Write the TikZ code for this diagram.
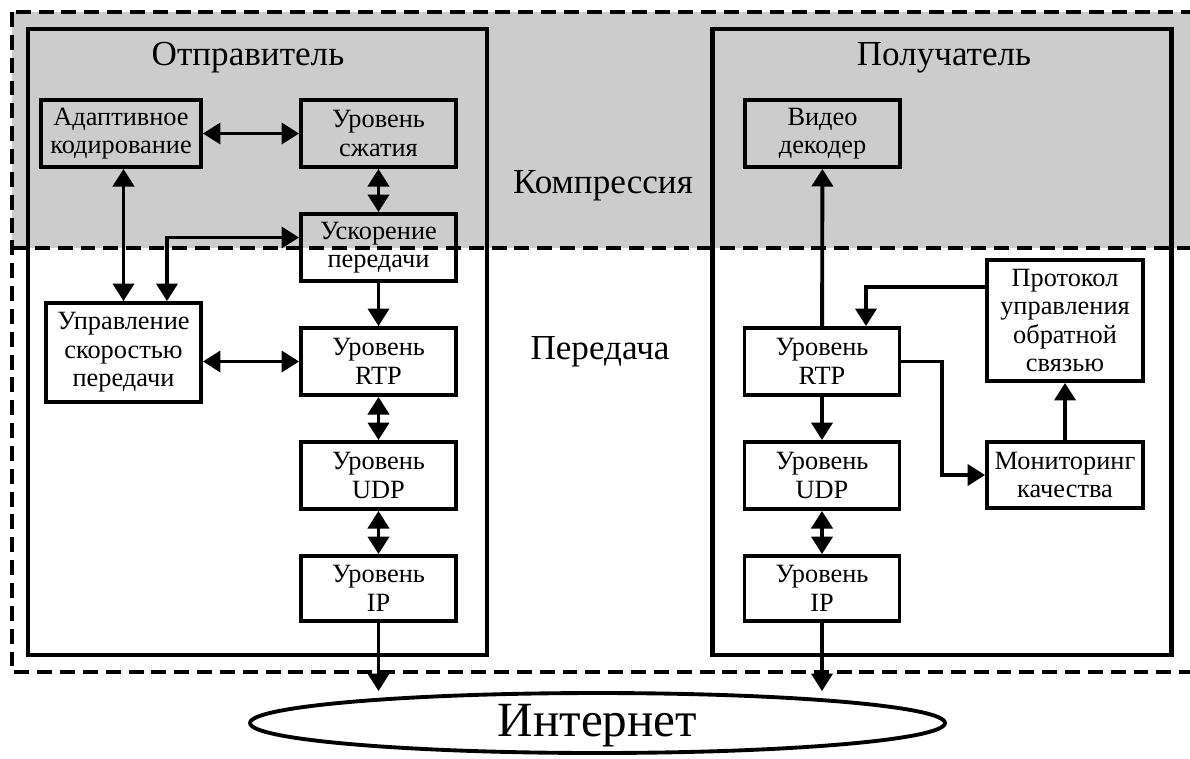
\documentclass[tikz,border=0pt]{standalone}
\usepackage{fontspec}
\setmainfont{Liberation Serif}
\usepackage{tikz}
\usetikzlibrary{
  arrows.meta,
  positioning,
  shapes.geometric
}
\usepackage{xcolor}
\definecolor{lightGray}{gray}{0.8}
\tikzset{
  blockbox/.style={
    draw,
    line width=2.2pt,
    align=center,
    inner sep=2pt,
    minimum width=3.1cm,
    minimum height=1.34cm,
    font=\fontsize{15}{16.2}\selectfont
  },
  hostbox/.style={
    draw,
    line width=2.4pt,
    minimum height=12.52cm
  },
  heading/.style={
    font=\fontsize{20}{22}\selectfont
  },
  zone/.style={
    line width=2.8pt,
    dash pattern=on 8.5pt off 4.5pt
  },
  link/.style={
    line width=2.2pt
  }
}

\begin{document}
\begin{tikzpicture}[>={Triangle[length=10pt,width=12pt]}, x=0.02cm, y=-0.02cm]
    \clip (0,0) rectangle (1190,758);
    \fill[lightGray] (12,12) rectangle (1200,248);

    \node[hostbox, minimum width=9.18cm] (sender) at (257.5,342) {};
    \node[hostbox, minimum width=9.18cm] (receiver) at (942,342) {};
    \node[heading] (senderTitle) at (248,58) {Отправитель};
    \node[heading] (receiverTitle) at (944,58) {Получатель};
    \node[heading] (compression) at (603,186) {Компрессия};
    \node[heading] (transfer) at (600,352) {Передача};

    % sender
    \node[blockbox, minimum width=3.2cm] (adapt) at (121,133.5) {Адаптивное\\кодирование};
    \node[blockbox] (compr) at (378.5,133.5) {Уровень\\сжатия};
    \node[blockbox] (accel) at (378.5,247.5) {Ускорение\\передачи};
    \node[blockbox, minimum height=1.98cm] (rate) at (123.5,352.5) {Управление\\скоростью\\передачи};
    \node[blockbox] (rtpS) at (378.5,361.5) {Уровень\\RTP};
    \node[blockbox] (udpS) at (378.5,475.5) {Уровень\\UDP};
    \node[blockbox, minimum height=1.3cm] (ipS) at (378.5,588.5) {Уровень\\IP};

    % receiver
    \node[blockbox] (dec) at (822.5,133.5) {Видео\\декодер};
    \node[blockbox] (rtpR) at (822,361.5) {Уровень\\RTP};
    \node[blockbox] (udpR) at (822,475.5) {Уровень\\UDP};
    \node[blockbox, minimum height=1.3cm] (ipR) at (822,588.5) {Уровень\\IP};
    \node[blockbox, minimum width=3.12cm, minimum height=2.42cm] (proto) at (1065,320.5) {Протокол\\управления\\обратной\\связью};
    \node[blockbox, minimum width=3.12cm, minimum height=1.32cm] (mon) at (1065,475) {Мониторинг\\качества};

    \node[draw, ellipse, line width=2.2pt, minimum width=13.9cm, minimum height=1.2cm,
          inner sep=0pt, text height=18pt, text depth=3pt,
          font=\fontsize{28}{30}\selectfont] (inet) at (597.5,723) {Интернет};

    \draw[zone] (12,12) rectangle (1200,672);
    \draw[zone] (12,248) -- (1200,248);

    \path[link]
    (adapt) edge[<->] (compr)
    (compr) edge[<->] (accel)
    (accel) edge[->] (rtpS)
    (rtpS) edge[<->] (udpS)
    (udpS) edge[<->] (ipS)
    (rtpR) edge[->] (dec)
            edge[->] (udpR)
    (udpR) edge[<->] (ipR)
    (mon) edge[->] (proto)
        ;
    \draw[link, <->] (adapt.south -| rate.north) -- (rate.north);
    \draw[link, <->] (rate.east |- rtpS.west) -- (rtpS.west);
    \draw[link, <->] ([yshift=0.2cm]accel.west) -| ([xshift=0.87cm]rate.north);
    \draw[link, ->] ([yshift=0.67cm]proto.west) -| ([xshift=0.88cm]rtpR.north);
    \draw[link, ->] (rtpR.east) -- ++(41,0) |- (mon.west);
    \draw[link, ->] (ipS.south) -- (ipS.south |- inet.north);
    \draw[link, ->] (ipR.south) -- (ipR.south |- inet.north);
\end{tikzpicture}
\end{document}
